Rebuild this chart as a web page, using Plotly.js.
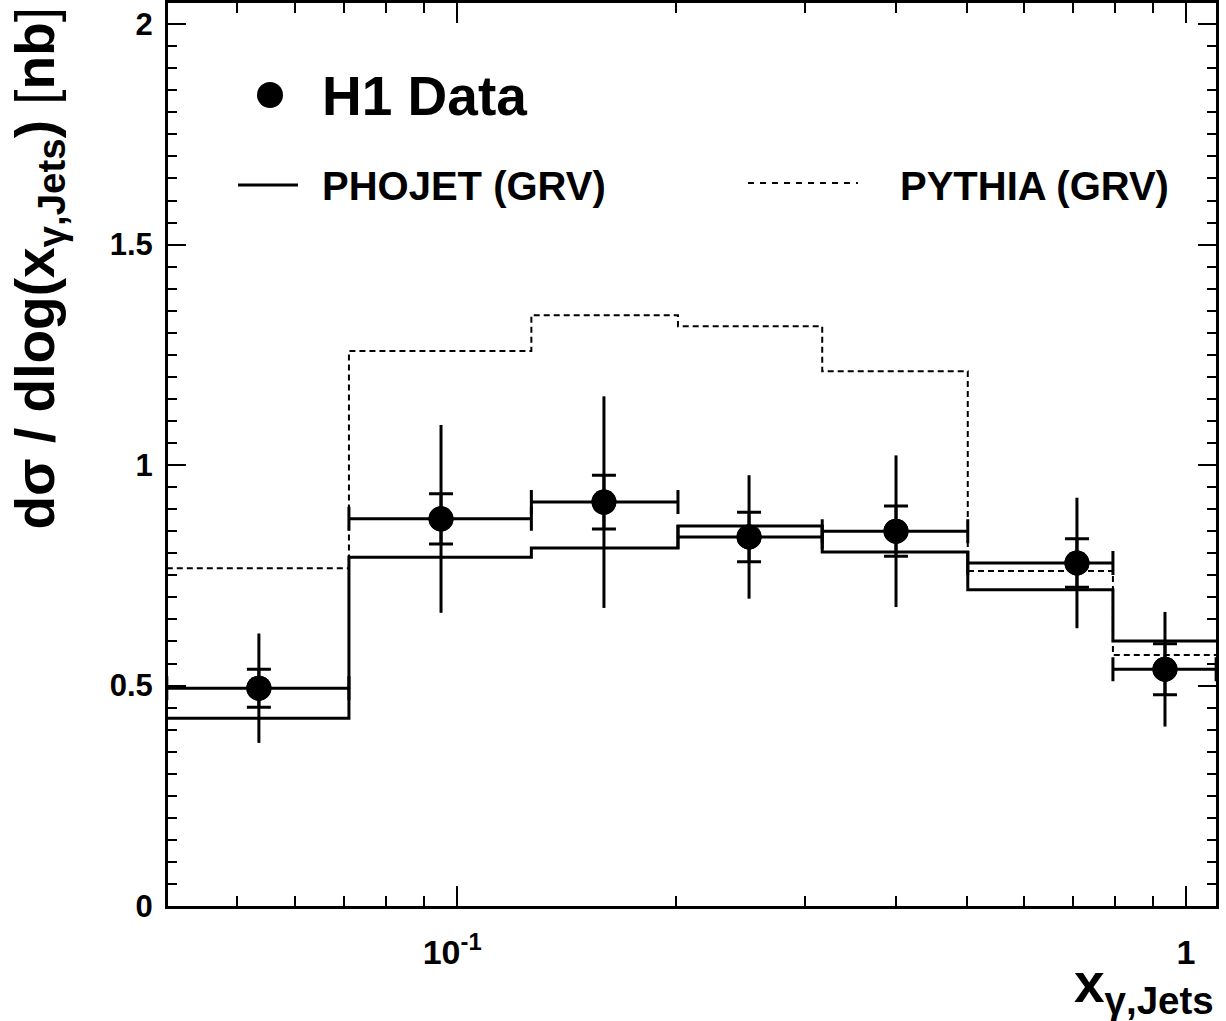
<!DOCTYPE html>
<html><head><meta charset="utf-8">
<script src="https://cdn.plot.ly/plotly-3.0.1.min.js"></script>
<style>html,body{margin:0;padding:0;background:#fff}</style>
</head><body>
<div id="chart" style="width:1226px;height:1021px"></div>
<script>
// ---- data ----
const binEdges = [0.04, 0.0711, 0.1265, 0.201, 0.317, 0.502, 0.794, 1.1];
const phojet   = [0.426, 0.791, 0.812, 0.862, 0.803, 0.717, 0.601];
const pythia   = [0.766, 1.259, 1.340, 1.315, 1.213, 0.760, 0.569];
const dataX    = [0.0535, 0.0951, 0.1591, 0.2516, 0.4002, 0.7087, 0.9359];
const dataY    = [0.494, 0.878, 0.916, 0.837, 0.850, 0.778, 0.537];
const statErr  = [0.043, 0.057, 0.061, 0.056, 0.057, 0.055, 0.058];
const totErr   = [0.124, 0.213, 0.240, 0.140, 0.172, 0.148, 0.130];
const yTickVals   = [0, 0.5, 1, 1.5, 2];
const yTickLabels = ["0", "0.5", "1", "1.5", "2"];
const xTickVals   = [0.1, 1];
const xTickLabels = ["10<sup>-1</sup>&nbsp;", "1"];
const xMinorVals  = [0.05, 0.06, 0.07, 0.08, 0.09, 0.2, 0.3, 0.4, 0.5, 0.6, 0.7, 0.8, 0.9];

const FONT = "Liberation Sans, Arial, Helvetica, sans-serif";
const stepY = v => v.concat([v[v.length - 1]]);
const errMinus = dataX.map((x, i) => x - binEdges[i]);
const errPlus  = dataX.map((x, i) => binEdges[i + 1] - x);

const traces = [
  { x: binEdges, y: stepY(pythia), mode: 'lines', name: 'PYTHIA (GRV)',
    line: { shape: 'hv', color: '#000', width: 2, dash: '6px,4px' }, hoverinfo: 'skip' },
  { x: binEdges, y: stepY(phojet), mode: 'lines', name: 'PHOJET (GRV)',
    line: { shape: 'hv', color: '#000', width: 3 }, hoverinfo: 'skip' },
  { x: dataX, y: dataY, mode: 'markers', name: 'H1 Data',
    marker: { size: 25, color: '#000' },
    error_y: { type: 'data', array: totErr, width: 0, thickness: 3, color: '#000' },
    error_x: { type: 'data', array: errPlus, arrayminus: errMinus, width: 12, thickness: 3, color: '#000' } },
  { x: dataX, y: dataY, mode: 'markers', name: 'H1 stat',
    marker: { size: 25, color: '#000' },
    error_y: { type: 'data', array: statErr, width: 12, thickness: 3, color: '#000' } }
];

const L = 168, R = 1216, T = 3, B = 906;
const px = v => (v - L) / (R - L);
const py = v => (B - v) / (B - T);

const layout = {
  width: 1226, height: 1021,
  margin: { l: L, r: 1226 - R, t: T, b: 1021 - B, pad: 0 },
  paper_bgcolor: '#fff', plot_bgcolor: '#fff',
  showlegend: false,
  font: { family: FONT, color: '#000' },
  xaxis: {
    type: 'log', range: [Math.log10(0.04015), Math.log10(1.0995)],
    showline: true, linewidth: 3, linecolor: '#000', mirror: 'ticks',
    showgrid: false, zeroline: false,
    ticks: 'inside', ticklen: 20, tickwidth: 2, tickcolor: '#000',
    tickmode: 'array', tickvals: xTickVals, ticktext: xTickLabels,
    tickfont: { family: FONT, size: 34, weight: 'bold', color: '#000' },
    ticklabelstandoff: 14,
    minor: { tickmode: 'array', tickvals: xMinorVals, ticks: 'inside', ticklen: 10, tickwidth: 2, tickcolor: '#000', showgrid: false }
  },
  yaxis: {
    range: [0, 2.048],
    showline: true, linewidth: 3, linecolor: '#000', mirror: 'ticks',
    showgrid: false, zeroline: false,
    ticks: 'inside', ticklen: 18, tickwidth: 2, tickcolor: '#000',
    tickmode: 'linear', tick0: 0, dtick: 0.5,
    tickvals: yTickVals, ticktext: yTickLabels,
    tickfont: { family: FONT, size: 31, weight: 'bold', color: '#000' },
    ticklabelstandoff: 6,
    minor: { dtick: 0.05, ticks: 'inside', ticklen: 9, tickwidth: 2, tickcolor: '#000', showgrid: false }
  },
  shapes: [
    { type: 'circle', xref: 'paper', yref: 'paper', xsizemode: 'pixel', ysizemode: 'pixel',
      xanchor: px(270), yanchor: py(95), x0: -13, x1: 13, y0: -13, y1: 13,
      fillcolor: '#000', line: { color: '#000', width: 0 } },
    { type: 'line', xref: 'paper', yref: 'paper', x0: px(238), x1: px(298), y0: py(185), y1: py(185),
      line: { color: '#000', width: 3 } },
    { type: 'line', xref: 'paper', yref: 'paper', x0: px(748), x1: px(858), y0: py(183), y1: py(183),
      line: { color: '#000', width: 2, dash: '6px,6px' } }
  ],
  annotations: [
    { xref: 'paper', yref: 'paper', x: px(320), y: py(96), xanchor: 'left', yanchor: 'middle',
      text: 'H1 Data', showarrow: false, font: { family: FONT, size: 55, weight: 'bold', color: '#000' } },
    { xref: 'paper', yref: 'paper', x: px(320), y: py(186), xanchor: 'left', yanchor: 'middle',
      text: 'PHOJET (GRV)', showarrow: false, font: { family: FONT, size: 40, weight: 'bold', color: '#000' } },
    { xref: 'paper', yref: 'paper', x: px(898), y: py(186), xanchor: 'left', yanchor: 'middle',
      text: 'PYTHIA (GRV)', showarrow: false, font: { family: FONT, size: 40, weight: 'bold', color: '#000' } },
    { xref: 'paper', yref: 'paper', x: px(38), y: py(5), xanchor: 'center', yanchor: 'top', textangle: -90,
      text: 'dσ / dlog(x<sub>γ,Jets</sub>) <span style="font-weight:normal">[</span>nb<span style="font-weight:normal">]</span>', showarrow: false,
      font: { family: FONT, size: 55, weight: 'bold', color: '#000' } },
    { xref: 'paper', yref: 'paper', x: 1, y: py(1024), xanchor: 'right', yanchor: 'bottom',
      text: 'x<sub>γ,Jets</sub>', showarrow: false,
      font: { family: FONT, size: 55, weight: 'bold', color: '#000' } }
  ]
};

Plotly.newPlot('chart', traces, layout, { staticPlot: true, displayModeBar: false });
</script>
</body></html>
